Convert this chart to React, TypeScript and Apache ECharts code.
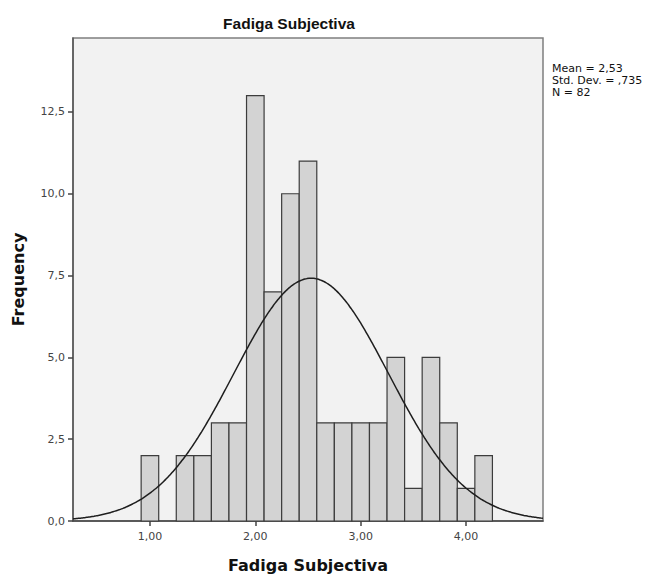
import React, { useEffect, useRef } from "react";
import * as echarts from "echarts";

// Histogram bins (centre of each 1/6-wide class) and their frequencies
const BIN_WIDTH = 1 / 6;
const BIN_CENTERS = [
  6 / 6, 7 / 6, 8 / 6, 9 / 6, 10 / 6, 11 / 6, 12 / 6, 13 / 6, 14 / 6, 15 / 6,
  16 / 6, 17 / 6, 18 / 6, 19 / 6, 20 / 6, 21 / 6, 22 / 6, 23 / 6, 24 / 6, 25 / 6,
];
const FREQUENCIES = [2, 0, 2, 2, 3, 3, 13, 7, 10, 11, 3, 3, 3, 3, 5, 1, 5, 3, 1, 2];

// Summary statistics shown beside the plot and used for the normal curve
const MEAN = 2.53;
const STD_DEV = 0.735;
const N = 82;

const X_TICKS = [1, 2, 3, 4];
const X_MIN = 0.27;
const X_MAX = 4.73;
const Y_MAX = 14.76;

const TITLE = "Fadiga Subjectiva";
const STATS_LINES = ["Mean = 2,53", "Std. Dev. = ,735", "N = 82"];

const comma = (v: number, digits: number) => v.toFixed(digits).replace(".", ",");

function normalCurve(): number[][] {
  const pts: number[][] = [];
  const scale = (N * BIN_WIDTH) / (STD_DEV * Math.sqrt(2 * Math.PI));
  for (let x = X_MIN; x <= X_MAX + 1e-9; x += 0.02) {
    const z = (x - MEAN) / STD_DEV;
    pts.push([x, scale * Math.exp(-0.5 * z * z)]);
  }
  return pts;
}

export default function App() {
  const ref = useRef<HTMLDivElement>(null);

  useEffect(() => {
    if (!ref.current) return;
    const chart = echarts.init(ref.current, undefined, { renderer: "svg" });

    const bars = BIN_CENTERS.map((c, i) => [c, FREQUENCIES[i]]);

    chart.setOption({
      animation: false,
      backgroundColor: "#ffffff",
      grid: {
        left: 73,
        right: 109,
        top: 38,
        bottom: 55,
        show: true,
        containLabel: false,
        outerBoundsMode: "none",
        backgroundColor: "#f2f2f2",
        borderColor: "#7f7f7f",
        borderWidth: 1.5,
      },
      xAxis: {
        type: "value",
        min: X_MIN,
        max: X_MAX,
        name: TITLE,
        nameLocation: "middle",
        nameGap: 36,
        nameTextStyle: {
          fontFamily: "DejaVu Sans",
          fontWeight: "bold",
          fontSize: 16,
          color: "#111",
        },
        axisLine: { show: true, lineStyle: { color: "#444", width: 1.5 } },
        axisTick: {
          show: true,
          length: 5,
          customValues: X_TICKS,
          lineStyle: { color: "#444", width: 1.5 },
        },
        axisLabel: {
          customValues: X_TICKS,
          formatter: (v: number) => comma(v, 2),
          fontFamily: "DejaVu Sans",
          fontSize: 11,
          color: "#444",
          margin: 10,
        },
        splitLine: { show: false },
      },
      yAxis: {
        type: "value",
        min: 0,
        max: Y_MAX,
        interval: 2.5,
        name: "Frequency",
        nameLocation: "middle",
        nameGap: 47,
        nameTextStyle: {
          fontFamily: "DejaVu Sans",
          fontWeight: "bold",
          fontSize: 16,
          color: "#111",
        },
        axisLine: { show: true, lineStyle: { color: "#555", width: 1.5 } },
        axisTick: { show: true, length: 5, lineStyle: { color: "#444", width: 1.5 } },
        axisLabel: {
          formatter: (v: number) => comma(v, 1),
          fontFamily: "DejaVu Sans",
          fontSize: 11,
          color: "#444",
          margin: 8,
          showMaxLabel: false,
        },
        splitLine: { show: false },
      },
      series: [
        {
          type: "custom",
          data: bars,
          z: 2,
          renderItem: (_params: any, api: any) => {
            const center = api.value(0);
            const count = api.value(1);
            if (!count) return null;
            const p0 = api.coord([center - BIN_WIDTH / 2, count]);
            const p1 = api.coord([center + BIN_WIDTH / 2, 0]);
            return {
              type: "rect",
              shape: { x: p0[0], y: p0[1], width: p1[0] - p0[0], height: p1[1] - p0[1] },
              style: { fill: "#d3d3d3", stroke: "#3c3c3c", lineWidth: 1.2 },
            };
          },
        },
        {
          type: "line",
          data: normalCurve(),
          showSymbol: false,
          smooth: true,
          z: 3,
          lineStyle: { color: "#1e1e1e", width: 1.5 },
        },
      ],
      graphic: [
        {
          type: "text",
          x: 289,
          y: 23,
          style: {
            text: TITLE,
            fontFamily: "Liberation Sans",
            fontWeight: "bold",
            fontSize: 15.5,
            fill: "#111",
            textAlign: "center",
            textVerticalAlign: "middle",
          },
        },
        ...STATS_LINES.map((line, i) => ({
          type: "text",
          x: 552,
          y: 63 + i * 12,
          style: {
            text: line,
            fontFamily: "DejaVu Sans",
            fontSize: 11,
            fill: "#111",
            textAlign: "left",
            textVerticalAlign: "top",
          },
        })),
      ],
    });

    return () => chart.dispose();
  }, []);

  return (
    <div
      ref={ref}
      style={{ position: "fixed", left: 0, top: 0, width: 652, height: 576 }}
    />
  );
}
